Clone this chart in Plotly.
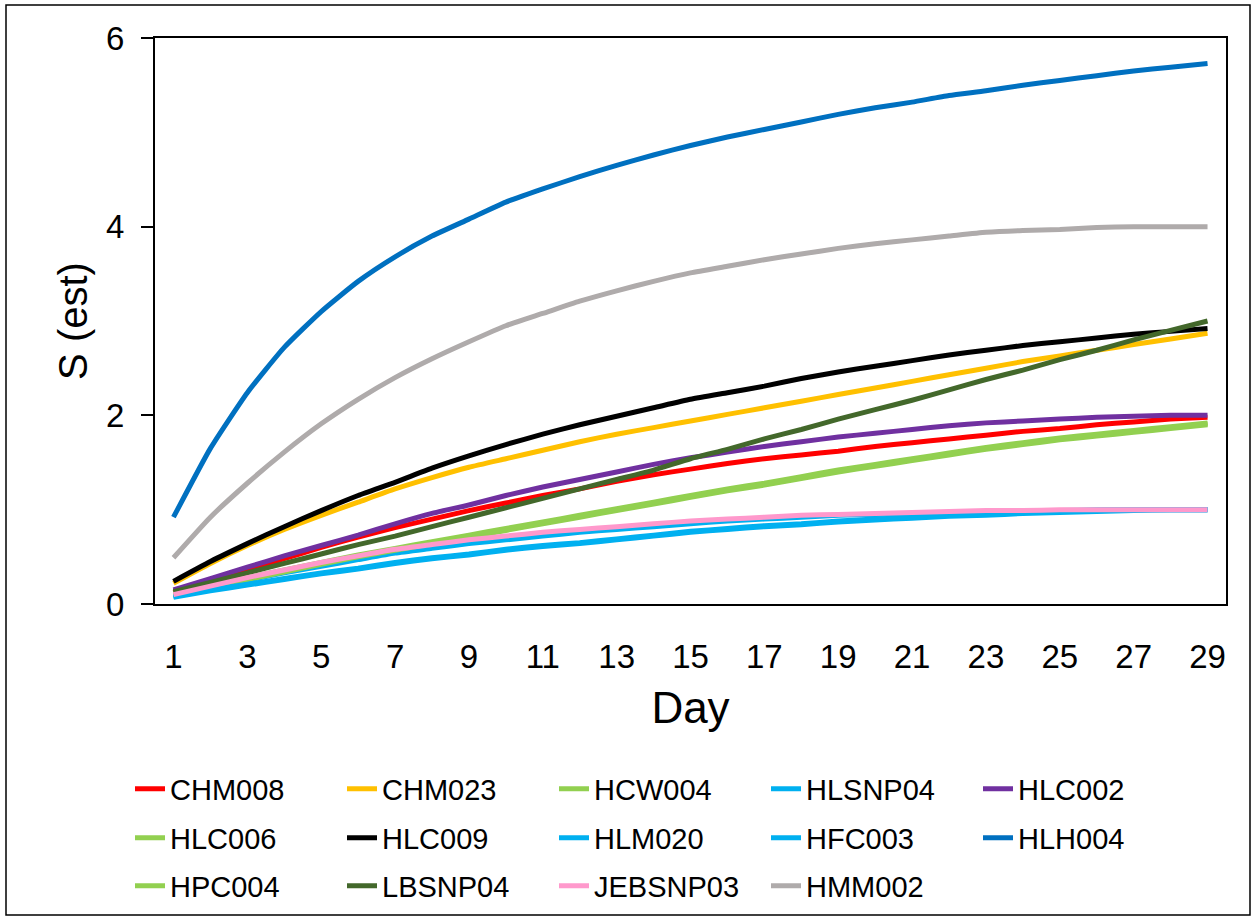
import plotly.graph_objects as go

days = list(range(1, 30))

series_names = ["CHM008", "CHM023", "HCW004", "HLSNP04", "HLC002",
                "HLC006", "HLC009", "HLM020", "HFC003", "HLH004",
                "HPC004", "LBSNP04", "JEBSNP03", "HMM002"]

CHM008 = [0.12, 0.24, 0.36, 0.48, 0.60, 0.71, 0.81, 0.90, 0.99, 1.07, 1.15, 1.22, 1.30, 1.37, 1.43,
          1.49, 1.54, 1.58, 1.62, 1.67, 1.71, 1.75, 1.79, 1.83, 1.86, 1.90, 1.93, 1.96, 1.98]
CHM023 = [0.22, 0.43, 0.62, 0.79, 0.94, 1.08, 1.22, 1.34, 1.45, 1.54, 1.63, 1.72, 1.80, 1.87, 1.94,
          2.01, 2.08, 2.15, 2.22, 2.29, 2.36, 2.43, 2.50, 2.57, 2.63, 2.69, 2.75, 2.81, 2.87]
HCW004 = [0.10, 0.19, 0.27, 0.35, 0.43, 0.51, 0.58, 0.65, 0.72, 0.79, 0.86, 0.93, 1.00, 1.07, 1.14,
          1.21, 1.27, 1.34, 1.41, 1.47, 1.53, 1.59, 1.65, 1.70, 1.75, 1.79, 1.83, 1.87, 1.91]
HLSNP04 = [0.09, 0.17, 0.25, 0.33, 0.40, 0.47, 0.54, 0.59, 0.64, 0.68, 0.72, 0.76, 0.79, 0.82, 0.85,
           0.88, 0.90, 0.92, 0.94, 0.95, 0.96, 0.97, 0.98, 0.99, 0.99, 1.00, 1.00, 1.00, 1.00]
HLC002 = [0.15, 0.27, 0.39, 0.51, 0.62, 0.73, 0.85, 0.96, 1.05, 1.15, 1.24, 1.32, 1.40, 1.48, 1.55,
          1.61, 1.67, 1.72, 1.77, 1.81, 1.85, 1.89, 1.92, 1.94, 1.96, 1.98, 1.99, 2.00, 2.00]
HLC006 = [0.09, 0.18, 0.26, 0.34, 0.42, 0.50, 0.57, 0.64, 0.71, 0.78, 0.85, 0.92, 0.99, 1.06, 1.13,
          1.20, 1.26, 1.33, 1.40, 1.46, 1.52, 1.58, 1.64, 1.69, 1.74, 1.78, 1.82, 1.86, 1.90]
HLC009 = [0.24, 0.45, 0.64, 0.82, 0.99, 1.15, 1.29, 1.44, 1.57, 1.69, 1.80, 1.90, 1.99, 2.08, 2.17,
          2.24, 2.31, 2.39, 2.46, 2.52, 2.58, 2.64, 2.69, 2.74, 2.78, 2.82, 2.86, 2.89, 2.92]
HLM020 = [0.07, 0.14, 0.20, 0.26, 0.32, 0.37, 0.43, 0.48, 0.52, 0.57, 0.61, 0.64, 0.68, 0.72, 0.76,
          0.79, 0.82, 0.84, 0.87, 0.89, 0.91, 0.93, 0.94, 0.96, 0.97, 0.98, 0.99, 1.00, 1.00]
HFC003 = [0.08, 0.15, 0.21, 0.27, 0.33, 0.38, 0.44, 0.49, 0.53, 0.58, 0.62, 0.65, 0.69, 0.73, 0.77,
          0.80, 0.83, 0.85, 0.88, 0.90, 0.92, 0.94, 0.95, 0.97, 0.98, 0.99, 1.00, 1.00, 1.00]
HLH004 = [0.92, 1.65, 2.24, 2.72, 3.10, 3.42, 3.68, 3.90, 4.08, 4.26, 4.40, 4.53, 4.65, 4.76, 4.86,
          4.95, 5.03, 5.11, 5.19, 5.26, 5.32, 5.39, 5.44, 5.50, 5.55, 5.60, 5.65, 5.69, 5.73]
HPC004 = [0.11, 0.20, 0.28, 0.36, 0.44, 0.52, 0.59, 0.66, 0.73, 0.80, 0.87, 0.94, 1.01, 1.08, 1.15,
          1.22, 1.28, 1.35, 1.42, 1.48, 1.54, 1.60, 1.66, 1.71, 1.76, 1.80, 1.84, 1.88, 1.92]
LBSNP04 = [0.13, 0.23, 0.33, 0.43, 0.53, 0.63, 0.72, 0.82, 0.92, 1.02, 1.12, 1.22, 1.32, 1.42, 1.54,
           1.64, 1.75, 1.85, 1.96, 2.06, 2.16, 2.27, 2.38, 2.48, 2.59, 2.69, 2.80, 2.90, 3.00]
JEBSNP03 = [0.10, 0.19, 0.28, 0.36, 0.44, 0.51, 0.58, 0.63, 0.68, 0.72, 0.76, 0.79, 0.82, 0.85, 0.88,
            0.90, 0.92, 0.94, 0.95, 0.96, 0.97, 0.98, 0.99, 0.99, 1.00, 1.00, 1.00, 1.00, 1.00]
HMM002 = [0.49, 0.92, 1.28, 1.61, 1.91, 2.17, 2.40, 2.60, 2.78, 2.95, 3.08, 3.21, 3.32, 3.42, 3.51,
          3.58, 3.65, 3.71, 3.77, 3.82, 3.86, 3.90, 3.94, 3.96, 3.97, 3.99, 4.00, 4.00, 4.00]

series_values = [CHM008, CHM023, HCW004, HLSNP04, HLC002, HLC006, HLC009, HLM020,
                 HFC003, HLH004, HPC004, LBSNP04, JEBSNP03, HMM002]
series_colors = ["#FF0000", "#FFC000", "#92D050", "#00B0F0", "#7030A0",
                 "#92D050", "#000000", "#00B0F0", "#00B0F0", "#0070C0",
                 "#92D050", "#43682B", "#FF99CC", "#AFABAB"]
legend_rows = ["legend"] * 5 + ["legend2"] * 5 + ["legend3"] * 4

x_tick_vals = list(range(1, 30, 2))
y_tick_vals = [0, 2, 4, 6]

FONT = "Arial, Liberation Sans, sans-serif"

fig = go.Figure()
for name, vals, col, lg in zip(series_names, series_values, series_colors, legend_rows):
    fig.add_trace(go.Scatter(x=days, y=vals, mode="lines", name=name,
                             line=dict(color=col, width=5, shape="spline", smoothing=0.5),
                             legend=lg))

# plot area pixel geometry
L, R, T, B = 155, 1226, 38, 604
W, H = 1253, 918
pw, ph = R - L, B - T

def px(xp):
    return (xp - L) / pw

def py(yp):
    return (B - yp) / ph

leg_common = dict(orientation="h", xanchor="left", yanchor="middle",
                  entrywidth=167, entrywidthmode="pixels",
                  font=dict(family=FONT, size=29, color="#000"),
                  bgcolor="rgba(0,0,0,0)", traceorder="normal")

fig.update_layout(
    width=W, height=H,
    margin=dict(l=L, r=W - R, t=T, b=H - B, pad=0, autoexpand=False),
    paper_bgcolor="white", plot_bgcolor="white",
    font=dict(family=FONT, color="#000"),
    legend=dict(x=px(130), y=py(789), **leg_common),
    legend2=dict(x=px(130), y=py(838), **leg_common),
    legend3=dict(x=px(130), y=py(886), **leg_common),
    xaxis=dict(range=[0.5, 29.5], tickvals=x_tick_vals, ticks="outside", ticklen=22,
               tickcolor="rgba(0,0,0,0)", showgrid=False, zeroline=False,
               showline=True, linecolor="#000", linewidth=2, mirror=True,
               tickfont=dict(size=33, family=FONT, color="#000"),
               title=dict(text="Day", font=dict(size=44, family=FONT, color="#000"), standoff=19)),
    yaxis=dict(range=[0, 6], tickvals=y_tick_vals, ticks="outside", ticklen=12,
               tickcolor="#000", tickwidth=2, showgrid=False, zeroline=False,
               showline=True, linecolor="#000", linewidth=2, mirror=True,
               tickfont=dict(size=33, family=FONT, color="#000"),
               ticklabelstandoff=10,
               title=dict(text="S (est)", font=dict(size=40, family=FONT, color="#000"), standoff=6)),
    shapes=[dict(type="rect", xref="paper", yref="paper",
                 x0=px(6), x1=px(1250), y0=py(915), y1=py(5),
                 line=dict(color="#000", width=1.5), fillcolor="rgba(0,0,0,0)", layer="below")],
)

fig.write_html("out.html")
